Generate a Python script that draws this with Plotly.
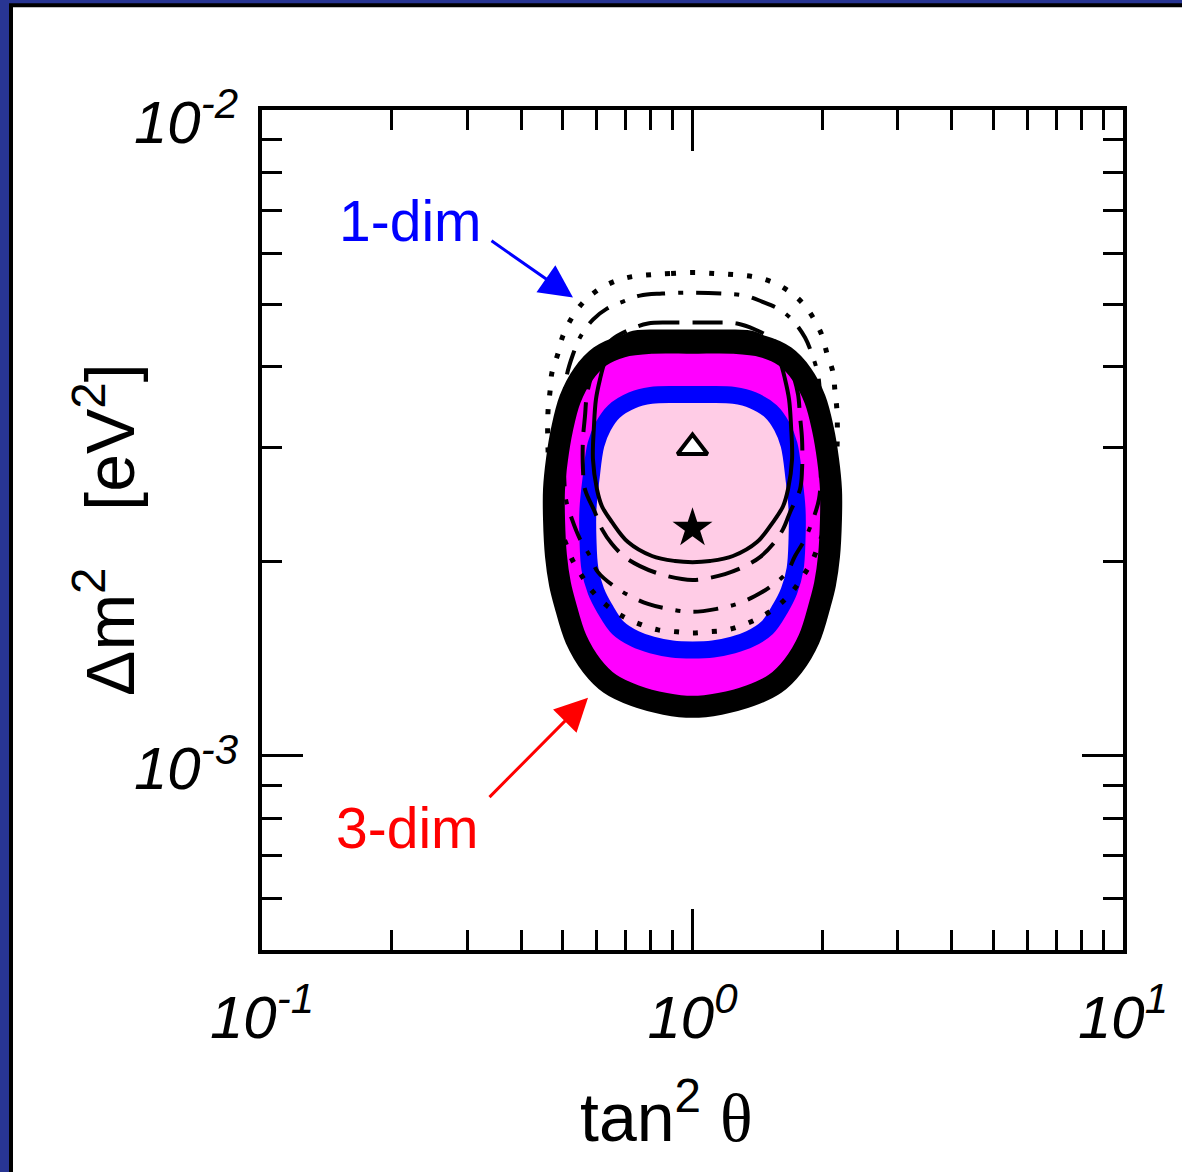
import plotly.graph_objects as go

# ---------------- data (tan^2 theta, delta m^2 [eV^2]) ----------------
# 3-dim allowed region (thick black boundary, magenta fill)
dim3_x = [1.0, 0.8053, 0.6858, 0.6095, 0.5566, 0.5192, 0.4976, 0.4844, 0.4768, 0.4768,
          0.4818, 0.4922, 0.5055, 0.5362, 0.5840, 0.6431, 0.7352, 0.8633, 1.0,
          1.1583, 1.3602, 1.5550, 1.7123, 1.8650, 1.9782, 2.0317, 2.0756, 2.0973,
          2.0973, 2.0644, 2.0096, 1.9260, 1.7966, 1.6407, 1.4582, 1.2418, 1.0]
dim3_y = [4.36e-3, 4.36e-3, 4.301e-3, 4.151e-3, 3.893e-3, 3.562e-3, 3.202e-3, 2.877e-3, 2.586e-3, 2.324e-3,
          2.038e-3, 1.844e-3, 1.718e-3, 1.516e-3, 1.377e-3, 1.292e-3, 1.238e-3, 1.203e-3, 1.190e-3,
          1.203e-3, 1.238e-3, 1.292e-3, 1.377e-3, 1.516e-3, 1.718e-3, 1.844e-3, 2.038e-3, 2.324e-3,
          2.586e-3, 2.877e-3, 3.202e-3, 3.562e-3, 3.893e-3, 4.151e-3, 4.301e-3, 4.36e-3, 4.36e-3]

# blue boundary, light pink fill
blue_x = [1.0, 0.9107, 0.8010, 0.7235, 0.6571, 0.6202, 0.5966, 0.5809, 0.5717, 0.5717, 0.5778, 0.5966,
          0.6260, 0.6713, 0.7352, 0.8053, 0.8962, 1.0,
          1.1158, 1.2418, 1.3602, 1.4896, 1.5974, 1.6762, 1.7307, 1.7492, 1.7492, 1.7215,
          1.6762, 1.6124, 1.5218, 1.3822, 1.2484, 1.0981, 1.0]
blue_y = [3.626e-3, 3.626e-3, 3.614e-3, 3.550e-3, 3.413e-3, 3.236e-3, 3.030e-3, 2.680e-3, 2.409e-3, 2.165e-3, 1.945e-3, 1.799e-3,
          1.688e-3, 1.577e-3, 1.516e-3, 1.484e-3, 1.463e-3, 1.458e-3,
          1.463e-3, 1.484e-3, 1.516e-3, 1.577e-3, 1.688e-3, 1.799e-3, 1.945e-3, 2.165e-3, 2.409e-3, 2.680e-3,
          3.030e-3, 3.236e-3, 3.413e-3, 3.550e-3, 3.614e-3, 3.626e-3, 3.626e-3]

# 1-dim contours
solid_x = [1.0, 0.8406, 0.7158, 0.6571, 0.6260, 0.6095, 0.5966, 0.5903, 0.5872, 0.5999, 0.6161,
           0.6501, 0.7082, 0.8053, 0.9107, 1.0,
           1.0981, 1.2418, 1.4120, 1.5382, 1.6231, 1.6669, 1.7030, 1.6941, 1.6762, 1.6407,
           1.5974, 1.5218, 1.3970, 1.1896, 1.0]
solid_y = [4.538e-3, 4.538e-3, 4.506e-3, 4.334e-3, 4.078e-3, 3.825e-3, 3.562e-3, 3.236e-3, 2.877e-3, 2.586e-3, 2.434e-3,
           2.300e-3, 2.142e-3, 2.038e-3, 2.002e-3, 1.994e-3,
           2.002e-3, 2.038e-3, 2.142e-3, 2.300e-3, 2.434e-3, 2.586e-3, 2.877e-3, 3.236e-3, 3.562e-3, 3.825e-3,
           4.078e-3, 4.334e-3, 4.506e-3, 4.538e-3, 4.538e-3]

dashed_x = [1.0, 0.8773, 0.7880, 0.7158, 0.6501, 0.6095, 0.5840, 0.5686, 0.5626, 0.5566, 0.5566,
            0.5626, 0.5935, 0.6161, 0.6501, 0.6969, 0.7551, 0.8406, 0.9453, 1.0,
            1.0579, 1.1896, 1.3243, 1.4349, 1.5382, 1.6231, 1.6849, 1.7775, 1.7966, 1.7966,
            1.7775, 1.7587, 1.7123, 1.6407, 1.5382, 1.3970, 1.2690, 1.1399, 1.0]
dashed_y = [4.686e-3, 4.686e-3, 4.669e-3, 4.571e-3, 4.410e-3, 4.181e-3, 3.893e-3, 3.626e-3, 3.353e-3, 3.090e-3, 2.777e-3,
            2.586e-3, 2.383e-3, 2.243e-3, 2.127e-3, 2.030e-3, 1.966e-3, 1.911e-3, 1.877e-3, 1.871e-3,
            1.877e-3, 1.911e-3, 1.966e-3, 2.030e-3, 2.127e-3, 2.243e-3, 2.383e-3, 2.586e-3, 2.777e-3, 3.090e-3,
            3.353e-3, 3.626e-3, 3.893e-3, 4.181e-3, 4.410e-3, 4.571e-3, 4.669e-3, 4.686e-3, 4.686e-3]

dashdot_x = [1.0, 0.8497, 0.7551, 0.6895, 0.6328, 0.5872, 0.5478, 0.5276, 0.5110, 0.5055, 0.5029,
             0.5029, 0.5083, 0.5248, 0.5478, 0.5778, 0.6031, 0.6607, 0.7158, 0.7880, 0.8773, 1.0,
             1.1399, 1.2690, 1.3970, 1.5135, 1.6581, 1.7307, 1.8255, 1.9055, 1.9673, 1.9885,
             1.9885, 1.9782, 1.9569, 1.8954, 1.8255, 1.7030, 1.5803, 1.4503, 1.3243, 1.1769, 1.0]
dashdot_y = [5.214e-3, 5.196e-3, 5.159e-3, 5.050e-3, 4.925e-3, 4.736e-3, 4.442e-3, 4.181e-3, 3.893e-3, 3.626e-3, 3.202e-3,
             2.777e-3, 2.496e-3, 2.324e-3, 2.165e-3, 2.038e-3, 1.924e-3, 1.825e-3, 1.767e-3, 1.718e-3, 1.688e-3, 1.670e-3,
             1.688e-3, 1.718e-3, 1.767e-3, 1.825e-3, 1.924e-3, 2.038e-3, 2.165e-3, 2.324e-3, 2.496e-3, 2.777e-3,
             3.202e-3, 3.626e-3, 3.893e-3, 4.181e-3, 4.442e-3, 4.736e-3, 4.925e-3, 5.050e-3, 5.159e-3, 5.196e-3, 5.214e-3]

dotted_x = [1.0, 0.8867, 0.8010, 0.7235, 0.6571, 0.5999, 0.5566, 0.5248, 0.5002, 0.4871, 0.4716,
            0.4667, 0.4617, 0.4617, 0.4691, 0.4818, 0.5055, 0.5248, 0.5537, 0.5872, 0.6295,
            0.6858, 0.7511, 0.8316, 0.9204, 1.0,
            1.0865, 1.2025, 1.3314, 1.4582, 1.5886, 1.7030, 1.8060, 1.9055, 1.9782, 2.0756,
            2.1318, 2.1659, 2.1659, 2.1427, 2.1204, 2.0530, 1.9992, 1.9055, 1.7966, 1.6669,
            1.5218, 1.3822, 1.2484, 1.1278, 1.0]
dotted_y = [5.600e-3, 5.580e-3, 5.559e-3, 5.520e-3, 5.423e-3, 5.251e-3, 5.032e-3, 4.770e-3, 4.474e-3, 4.196e-3, 3.921e-3,
            3.665e-3, 3.413e-3, 2.982e-3, 2.586e-3, 2.324e-3, 2.149e-3, 2.016e-3, 1.897e-3, 1.793e-3, 1.712e-3,
            1.646e-3, 1.600e-3, 1.566e-3, 1.555e-3, 1.549e-3,
            1.555e-3, 1.566e-3, 1.600e-3, 1.646e-3, 1.712e-3, 1.793e-3, 1.897e-3, 2.016e-3, 2.149e-3, 2.324e-3,
            2.586e-3, 2.982e-3, 3.413e-3, 3.665e-3, 3.921e-3, 4.196e-3, 4.474e-3, 4.770e-3, 5.032e-3, 5.251e-3,
            5.423e-3, 5.520e-3, 5.559e-3, 5.580e-3, 5.600e-3]

# best-fit points
triangle_pt = ([1.0], [3.0e-3])
star_pt = ([1.0], [2.25e-3])

# axis ticks
x_major = [0.1, 1, 10]
x_major_text = ["<i>10<sup>-1</sup></i>", "<i>10<sup>0</sup></i>", "<i>10<sup>1</sup></i>"]
x_minor = [0.2, 0.3, 0.4, 0.5, 0.6, 0.7, 0.8, 0.9, 2, 3, 4, 5, 6, 7, 8, 9]
y_major = [1e-3, 1e-2]
y_major_text = ["<i>10<sup>-3</sup></i>", "<i>10<sup>-2</sup></i>"]
y_minor = [6e-4, 7e-4, 8e-4, 9e-4, 2e-3, 3e-3, 4e-3, 5e-3, 6e-3, 7e-3, 8e-3, 9e-3]

FONT = "Liberation Sans, Arial, Helvetica, sans-serif"
SMOOTH = 1.0

fig = go.Figure()

# magenta region
fig.add_trace(go.Scatter(x=dim3_x, y=dim3_y, mode="lines", line=dict(width=0, shape="spline", smoothing=SMOOTH),
                         fill="toself", fillcolor="#ff00ff", hoverinfo="skip"))
# pink region with blue boundary
fig.add_trace(go.Scatter(x=blue_x, y=blue_y, mode="lines",
                         line=dict(color="#0000ff", width=17, shape="spline", smoothing=SMOOTH),
                         fill="toself", fillcolor="#ffcce6", hoverinfo="skip"))
# thin contours
fig.add_trace(go.Scatter(x=solid_x, y=solid_y, mode="lines",
                         line=dict(color="black", width=4, shape="spline", smoothing=SMOOTH)))
fig.add_trace(go.Scatter(x=dashed_x, y=dashed_y, mode="lines",
                         line=dict(color="black", width=4, shape="spline", smoothing=SMOOTH, dash="30px,13px")))
fig.add_trace(go.Scatter(x=dashdot_x, y=dashdot_y, mode="lines",
                         line=dict(color="black", width=4, shape="spline", smoothing=SMOOTH,
                                   dash="25px,13px,5px,13px")))
fig.add_trace(go.Scatter(x=dotted_x, y=dotted_y, mode="lines",
                         line=dict(color="black", width=5, shape="spline", smoothing=SMOOTH, dash="5px,14px")))
# thick black boundary
fig.add_trace(go.Scatter(x=dim3_x, y=dim3_y, mode="lines",
                         line=dict(color="black", width=22, shape="spline", smoothing=SMOOTH)))
# markers
fig.add_trace(go.Scatter(x=triangle_pt[0], y=triangle_pt[1], mode="markers",
                         marker=dict(symbol="triangle-up", size=26, color="white",
                                     line=dict(color="black", width=4))))
fig.add_trace(go.Scatter(x=star_pt[0], y=star_pt[1], mode="markers",
                         marker=dict(symbol="star", size=30, color="black", line=dict(width=0))))

axis_common = dict(type="log", showgrid=False, zeroline=False, showline=True, linecolor="black",
                   linewidth=4, mirror="ticks", ticks="inside", ticklen=41, tickwidth=3, tickcolor="black",
                   tickfont=dict(family=FONT, size=60, color="black"), automargin=False)

fig.update_xaxes(**axis_common, range=[-1, 1], tickmode="array", tickvals=x_major, ticktext=x_major_text,
                 ticklabelstandoff=12,
                 minor=dict(tickmode="array", tickvals=x_minor, ticks="inside", ticklen=20, tickwidth=3,
                            tickcolor="black", showgrid=False))
fig.update_yaxes(**axis_common, range=[-3.30103, -2], tickmode="array", tickvals=y_major,
                 showticklabels=False,
                 minor=dict(tickmode="array", tickvals=y_minor, ticks="inside", ticklen=20, tickwidth=3,
                            tickcolor="black", showgrid=False))

PW, PH = 861.0, 840.0  # plot area size in px

annotations = [
    dict(text="tan<sup>2</sup> <span style='font-family:Liberation Serif'>θ</span>", xref="paper", yref="paper",
         x=(666 - 262) / PW, y=(950 - 1112) / PH, showarrow=False,
         font=dict(family=FONT, size=68, color="black"), xanchor="center", yanchor="middle"),
    dict(text="Δm<sup>2</sup>\u00a0\u00a0\u00a0[eV<sup>2</sup>]", xref="paper", yref="paper",
         x=(105 - 262) / PW, y=(950 - 530) / PH, showarrow=False, textangle=-90,
         font=dict(family=FONT, size=68, color="black"), xanchor="center", yanchor="middle"),
    dict(text="1-dim", xref="x", yref="y", x=-0.654, y=-2.1716, showarrow=False,
         font=dict(family=FONT, size=57, color="#0000ff"), xanchor="center", yanchor="middle"),
    dict(text="3-dim", xref="x", yref="y", x=-0.661, y=-3.1128, showarrow=False,
         font=dict(family=FONT, size=57, color="#ff0000"), xanchor="center", yanchor="middle"),
    dict(text="", xref="x", yref="y", x=-0.2776, y=-2.2906, axref="x", ayref="y", ax=-0.4704, ay=-2.201,
         showarrow=True, arrowhead=2, arrowsize=2.2, arrowwidth=3, arrowcolor="#0000ff"),
    dict(text="", xref="x", yref="y", x=-0.2427, y=-2.9104, axref="x", ayref="y", ax=-0.475, ay=-3.0665,
         showarrow=True, arrowhead=2, arrowsize=2.2, arrowwidth=3, arrowcolor="#ff0000"),
]
# y tick labels as annotations (placed slightly below the tick, as in the reference)
import math
for v, t in zip(y_major, y_major_text):
    annotations.append(dict(text=t, xref="paper", yref="y", x=(240 - 262) / PW, y=math.log10(v),
                            xanchor="right", yanchor="middle", yshift=-8, showarrow=False,
                            font=dict(family=FONT, size=60, color="black")))

shapes = [
    dict(type="rect", xref="paper", yref="paper", x0=(11 - 262) / PW, x1=2.0, y0=-1.0, y1=(950 - 5.3) / PH,
         fillcolor="white", line=dict(color="black", width=4), layer="below"),
]

fig.update_layout(width=1182, height=1172, margin=dict(l=262, r=59, t=110, b=222),
                  paper_bgcolor="#283593", plot_bgcolor="white", showlegend=False,
                  annotations=annotations, shapes=shapes, font=dict(family=FONT))

fig.write_html("out.html")
